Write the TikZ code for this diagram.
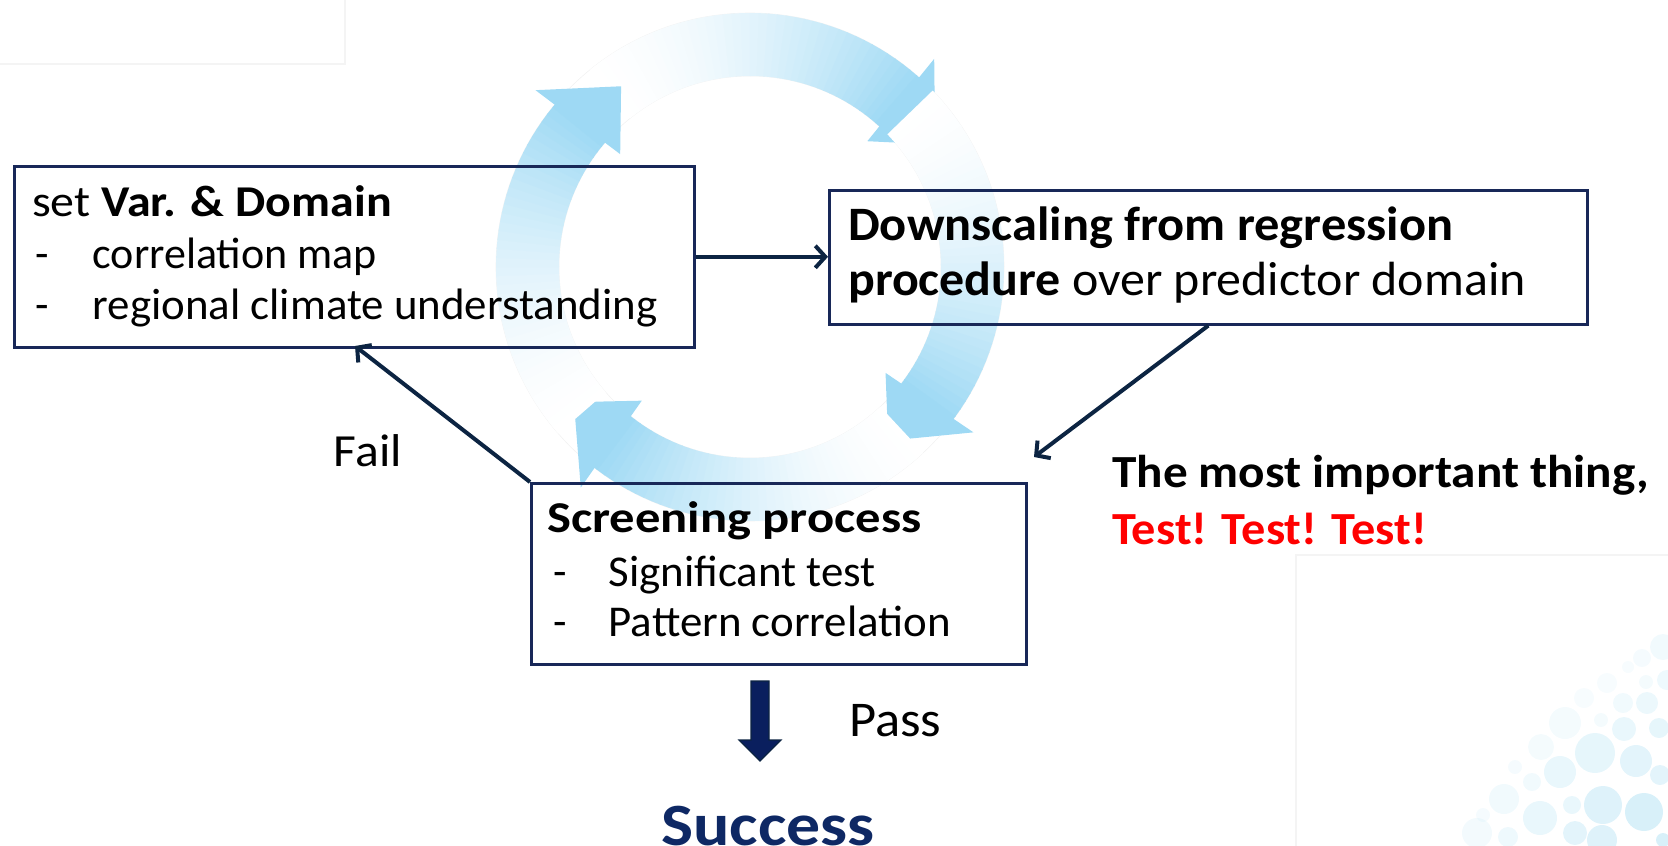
\documentclass[tikz,border=0pt]{standalone}
\usepackage{fontspec}
\setmainfont{Carlito}
\usetikzlibrary{arrows.meta,calc}
\definecolor{navy}{RGB}{24,40,88}
\definecolor{conn}{RGB}{12,36,66}
\definecolor{arrowblue}{RGB}{158,217,244}
\definecolor{succ}{RGB}{14,40,100}
\definecolor{bub}{RGB}{200,234,247}
\newcommand{\hsc}[2]{\scalebox{#1}[1]{#2}}
\begin{document}
\begin{tikzpicture}[x=1pt,y=-1pt,
  box/.style={draw=navy, line width=2.6pt, inner sep=0pt, anchor=north west},
  txt/.style={anchor=base west, inner sep=0pt, font=\fontsize{44}{52}\selectfont},
  bigtxt/.style={anchor=base west, inner sep=0pt, font=\fontsize{48}{56}\selectfont},
  conn/.style={draw=conn, line width=4pt, -{Straight Barb[length=10pt,width=22pt,line width=4pt]}},
  faint/.style={draw=gray!9, line width=1.5pt}]
\useasboundingbox (0,0) rectangle (1668,846);
% faint background frames
\draw[faint] (0,64) -- (345,64) -- (345,0);
\draw[faint] (1296,846) -- (1296,555) -- (1668,555);
% bubbles
\foreach \cx/\cy/\r/\o in {1595/753/20/0.45,1636/761/16/0.5,1560/772/16/0.4,1603/805/19/0.6,1644/812/19/0.7,
  1540/818/17/0.4,1575/833/12/0.5,1624/729/12/0.4,1647/703/11/0.35,1659/728/10/0.45,1565/723/16/0.2,
  1541/747/13/0.2,1504/799/15/0.25,1532/782/9/0.25,1572/805/9/0.4,1601/720/7/0.2,1623/703/10/0.25,
  1646/682/7/0.2,1607/683/10/0.15,1584/698/10/0.15,1642/658/9/0.18,1628/667/6/0.15,1663/647/13/0.25,
  1667/680/10/0.3,1515/767/7/0.18,1483/815/7/0.18,1477/833/15/0.22,1508/837/10/0.3,1602/840/15/0.6,
  1663/840/7/0.7,1660/775/10/0.5}
  {\fill[bub, opacity=\o] (\cx,\cy) circle (\r);}
% ring track
\draw[gray!10, line width=0.6pt] (750,267) circle (254) (750,267) circle (191);
% circular arrows
\foreach \B in {47,-38,-129,139}{
  \foreach \k in {0,...,39}{
    \pgfmathsetmacro\aS{\B+82-\k*2.05}
    \pgfmathsetmacro\aE{\aS-2.35}
    \pgfmathsetmacro\p{100*((\k+1)/40)^1.7}
    \fill[arrowblue!\p!white] plot[domain=\aS:\aE, samples=4] ({750+254*cos(\x)},{267-254*sin(\x)})
      -- plot[domain=\aE:\aS, samples=4] ({750+191*cos(\x)},{267-191*sin(\x)}) -- cycle;
  }
  \fill[arrowblue] ({750+172*cos(\B)},{267-172*sin(\B)}) -- ({750+278*cos(\B+1.5)},{267-278*sin(\B+1.5)})
    -- ({750+222*cos(\B-13.5)},{267-222*sin(\B-13.5)}) -- cycle;
}
% boxes
\node[box, minimum width=680pt, minimum height=181pt] (a) at (13,165) {};
\node[box, minimum width=758pt, minimum height=134pt] (b) at (828,189) {};
\node[box, minimum width=495pt, minimum height=181pt] (s) at (530,482) {};
% texts box a
\node[txt] (a1) at (32,216) {\hsc{1.09}{set \textbf{Var. \& Domain}}};
\node[txt] (a2d) at (35,268) {-};
\node[txt] (a2) at (92.5,268) {correlation map};
\node[txt] (a3d) at (35,319) {-};
\node[txt] (a3) at (92.5,319) {\hsc{1.02}{regional climate understanding}};
% texts box b
\node[bigtxt] (b1) at (848,240) {\hsc{1.05}{\textbf{Downscaling from regression}}};
\node[bigtxt] (b2) at (848,295) {\hsc{1.04}{\textbf{procedure} over predictor domain}};
% texts box s
\node[txt] (s1) at (547,532) {\hsc{1.15}{\textbf{Screening process}}};
\node[txt] (s2d) at (553,586) {-};
\node[txt] (s2) at (608.5,586) {\hsc{1.02}{Significant test}};
\node[txt] (s3d) at (553,636) {-};
\node[txt] (s3) at (608.5,636) {\hsc{1.02}{Pattern correlation}};
% labels
\node[txt, anchor=base, font=\fontsize{46}{54}\selectfont] (fail) at (368,466) {\hsc{1.08}{Fail}};
\node[txt, anchor=base west, font=\fontsize{50}{58}\selectfont] (pass) at (849,736) {\hsc{1.05}{Pass}};
\node[anchor=base, inner sep=0pt, text=succ, font=\fontsize{60}{70}\selectfont\bfseries] (succ) at (768,845) {\hsc{1.13}{Success}};
\node[txt, font=\fontsize{46}{54}\selectfont\bfseries] (imp1) at (1112,487) {\hsc{1.07}{The most important thing,}};
\node[txt, font=\fontsize{46}{54}\selectfont\bfseries, text=red] (imp2) at (1112,544) {\hsc{1.05}{Test! Test! Test!}};
% connectors
\coordinate (failend) at (355,346);
\coordinate (dsend) at (1034,457);
\draw[conn] (a.east) -- (a.east -| b.west);
\draw[conn] (b.south) -- (dsend);
\draw[conn] (s.north west) -- (failend);
% pass block arrow
\coordinate (pa) at (760,681);
\filldraw[draw=conn, fill=conn!85!blue, line width=1.2pt]
  (pa) ++(-9,0) -- ++(18,0) -- ++(0,59) -- ++(12,0) -- ++(-21,21) -- ++(-21,-21) -- ++(12,0) -- cycle;
\end{tikzpicture}
\end{document}
